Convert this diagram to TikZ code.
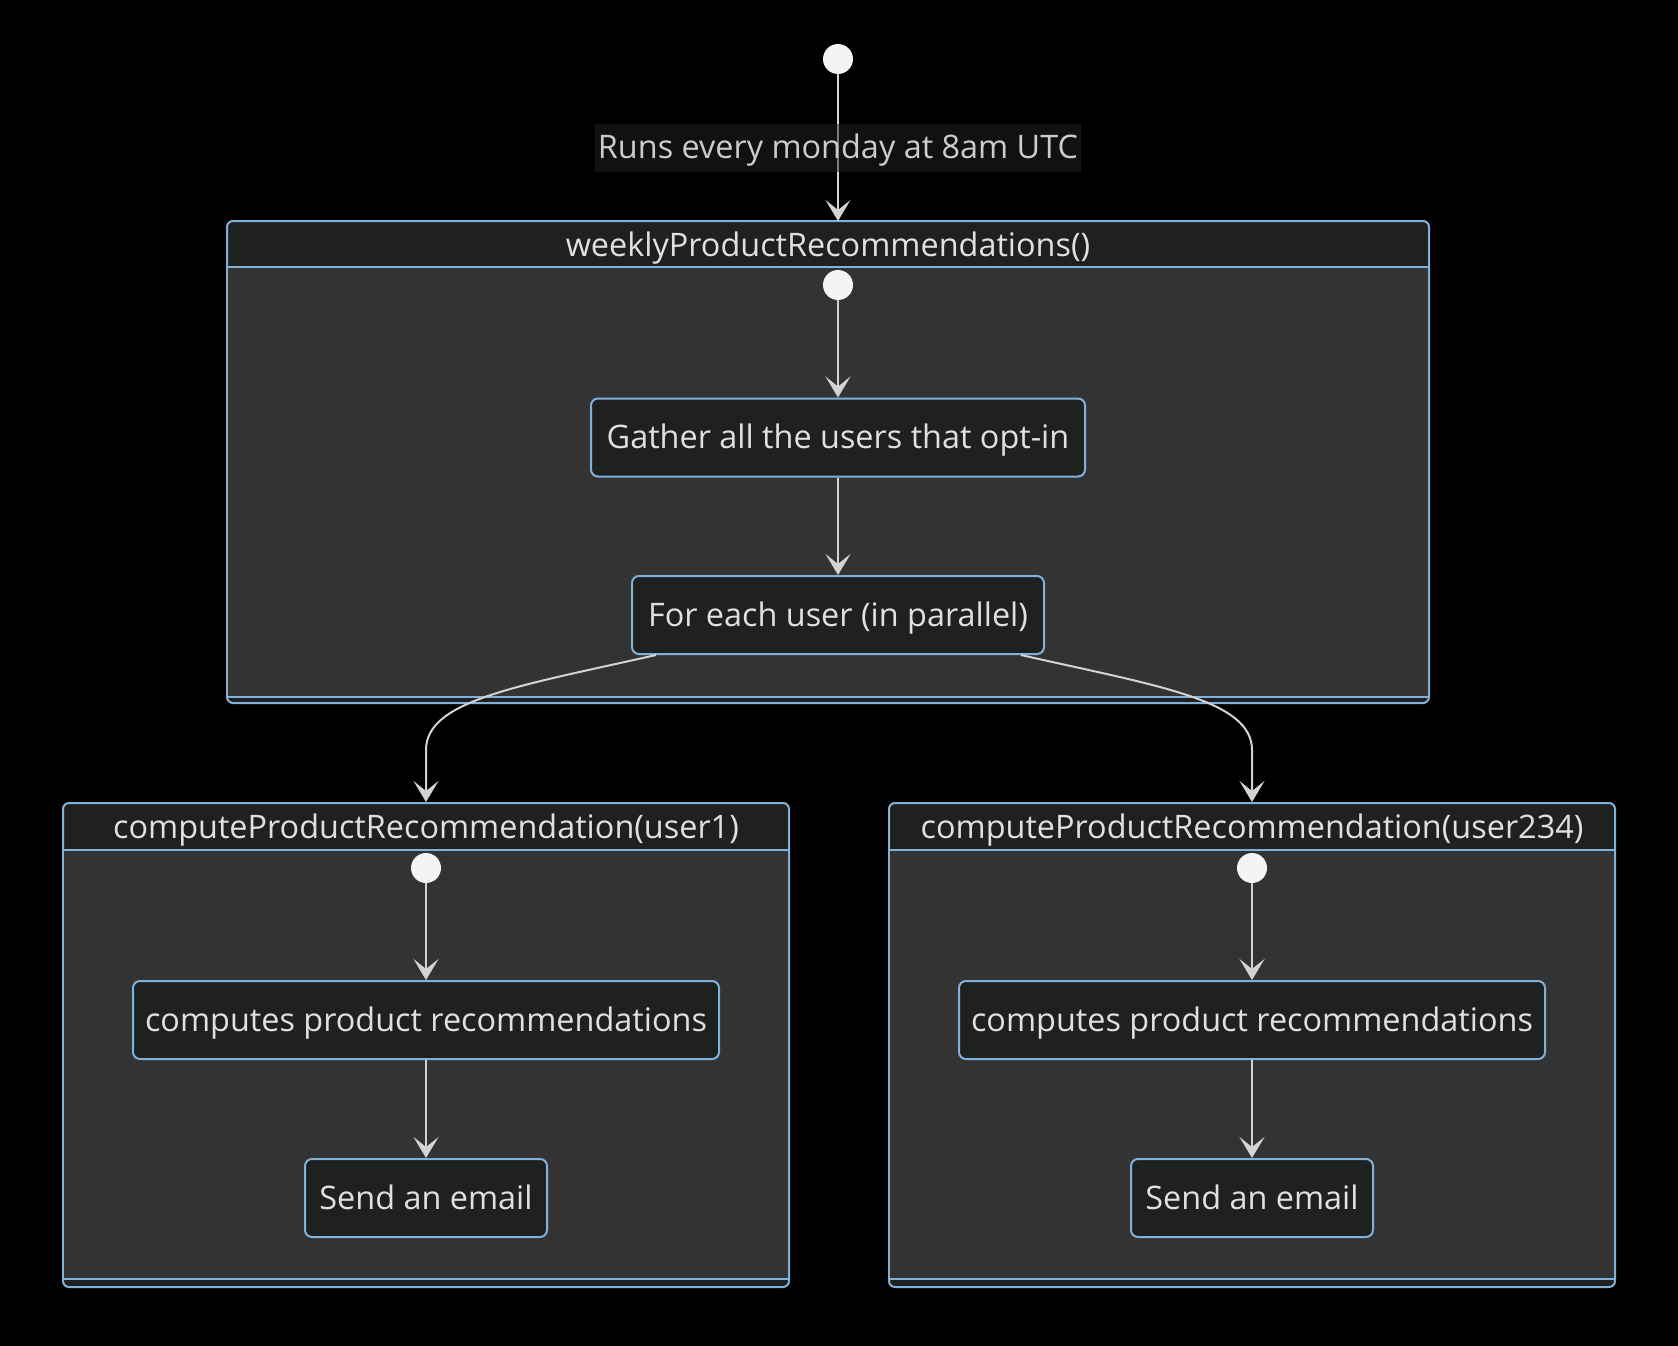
\documentclass[tikz,border=0pt]{standalone}
\usepackage{fontspec}
\setmainfont{Open Sans}
\usetikzlibrary{arrows.meta}
\definecolor{hdr}{HTML}{1F2020}
\definecolor{bodyc}{HTML}{333333}
\definecolor{edgec}{HTML}{D3D3D3}
\definecolor{bord}{HTML}{81B1DB}
\definecolor{txt}{HTML}{E0E0E0}
\definecolor{lbltxt}{HTML}{CCCCCC}
\definecolor{dot}{HTML}{F4F4F4}
\definecolor{lblbg}{HTML}{222222}

\begin{document}
\begin{tikzpicture}[x=1pt,y=-1pt,
  font=\fontsize{32.4}{38}\selectfont,
  every node/.style={text height=24pt, text depth=2pt},
  state/.style={draw=bord, line width=2pt, fill=hdr, rounded corners=7pt,
    text=txt, inner sep=0pt, minimum height=78pt},
  startdot/.style={circle, fill=dot, minimum size=30pt, inner sep=0pt,
    text height=0pt, text depth=0pt},
  cluster/.style={draw=bord, line width=2pt, fill=hdr, rounded corners=6pt, inner sep=0pt},
  clbody/.style={fill=bodyc, draw=bord, line width=2pt},
  ctitle/.style={text=txt, inner sep=0pt},
  flow/.style={draw=edgec, line width=2pt, -{Stealth[length=21pt,width=25pt,inset=10pt]}},
  elabel/.style={fill=lblbg, fill opacity=0.5, text opacity=1, text=lbltxt,
    inner xsep=3pt, inner ysep=0pt, minimum height=48pt}
]
\fill[black] (0,0) rectangle (1678,1346);
\useasboundingbox (0,0) rectangle (1678,1346);

% outer composite state
\node[cluster, minimum width=1202pt, minimum height=482pt] (wk) at (828,462) {};
\draw[clbody] (227,267) rectangle (1429,697);
\node[ctitle] (wkt) at (828,245) {weeklyProductRecommendations()};

% per-user composite states
\node[cluster, minimum width=726pt, minimum height=484pt] (c1) at (426,1045) {};
\draw[clbody] (63,850) rectangle (789,1279);
\node[ctitle] (c1t) at (426,827) {computeProductRecommendation(user1)};

\node[cluster, minimum width=726pt, minimum height=484pt] (c2) at (1252,1045) {};
\draw[clbody] (889,850) rectangle (1615,1279);
\node[ctitle] (c2t) at (1252,827) {computeProductRecommendation(user234)};

% top-level start
\node[startdot] (s0) at (838,59) {};
\coordinate (wkin) at (838,221);
\draw[flow] (s0) -- node[elabel] (trig) {Runs every monday at 8am UTC} (wkin);

% inside weeklyProductRecommendations()
\node[startdot] (s1) at (838,285) {};
\node[state, minimum width=494pt] (gather) at (838,437.5) {Gather all the users that opt-in};
\node[state, minimum width=412pt] (each) at (838,615) {For each user (in parallel)};
\draw[flow] (s1) -- (gather);
\draw[flow] (gather) -- (each);

% fan-out to the per-user states
\coordinate (bendL) at (426,750);
\coordinate (bendR) at (1252,750);
\draw[flow] ([xshift=25pt]each.south west) .. controls +(-137,31) and +(0,-50) .. (bendL) -- (c1.north);
\draw[flow] ([xshift=-24pt]each.south east) .. controls +(137,31) and +(0,-50) .. (bendR) -- (c2.north);

% inside computeProductRecommendation(user1)
\node[startdot] (s2) at (426,868) {};
\node[state, minimum width=586pt] (cp1) at (426,1020) {computes product recommendations};
\node[state, minimum width=242pt] (em1) at (426,1198) {Send an email};
\draw[flow] (s2) -- (cp1);
\draw[flow] (cp1) -- (em1);

% inside computeProductRecommendation(user234)
\node[startdot] (s3) at (1252,868) {};
\node[state, minimum width=586pt] (cp2) at (1252,1020) {computes product recommendations};
\node[state, minimum width=242pt] (em2) at (1252,1198) {Send an email};
\draw[flow] (s3) -- (cp2);
\draw[flow] (cp2) -- (em2);
\end{tikzpicture}
\end{document}
